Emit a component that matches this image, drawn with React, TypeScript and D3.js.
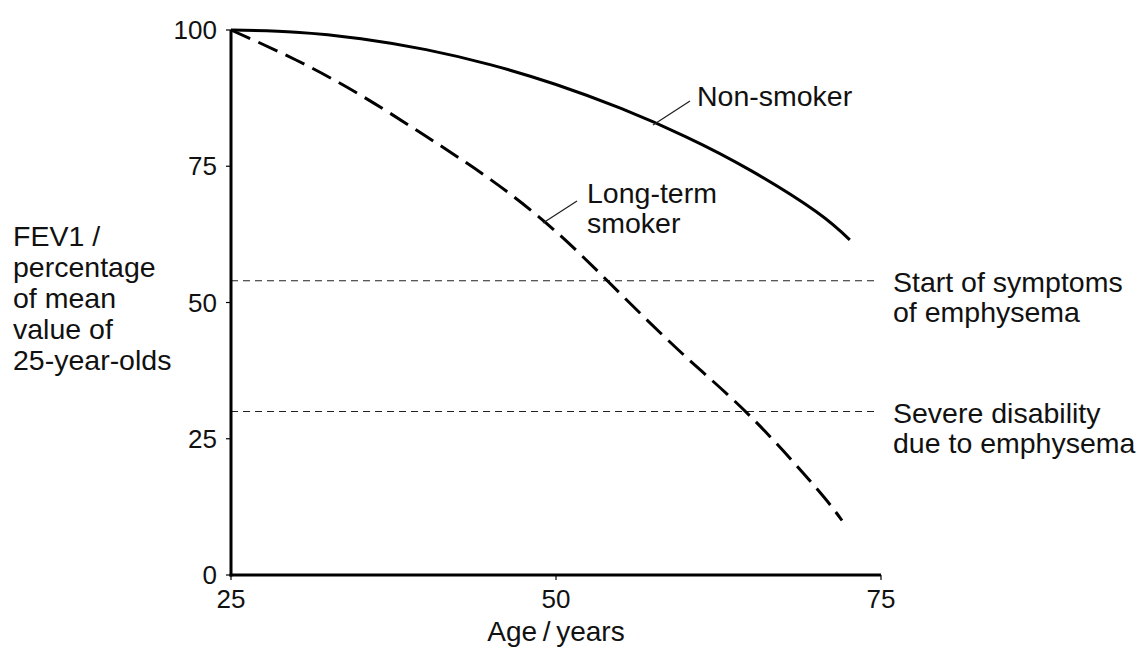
import React from "react";
import * as d3 from "d3";

const ages = [25, 30, 35, 40, 45, 50, 55, 60, 65, 70, 72.6];
const nonSmoker = [100, 99.6, 98.4, 96.4, 93.6, 90, 85.6, 80.4, 74.2, 66.7, 61.5];
const smokerAges = [25, 30, 35, 40, 45, 50, 55, 60, 65, 70, 72];
const smoker = [100, 94.5, 88, 80.5, 72.5, 63, 51.5, 40, 29, 16, 10];
const xTicks = [25, 50, 75];
const yTicks = [0, 25, 50, 75, 100];
const thresholds = [
  { value: 54, label: ["Start of symptoms", "of emphysema"] },
  { value: 30, label: ["Severe disability", "due to emphysema"] },
];
const yLabel = ["FEV1 /", "percentage", "of mean", "value of", "25-year-olds"];

export default function App() {
  const W = 1145, H = 648;
  const x = d3.scaleLinear().domain([25, 75]).range([231, 881]);
  const y = d3.scaleLinear().domain([0, 100]).range([575, 30]);
  const font = "'Liberation Sans', Arial, sans-serif";
  const line = d3
    .line<[number, number]>()
    .x((d) => x(d[0]))
    .y((d) => y(d[1]))
    .curve(d3.curveNatural);
  const nsData = ages.map((a, i) => [a, nonSmoker[i]] as [number, number]);
  const smData = smokerAges.map((a, i) => [a, smoker[i]] as [number, number]);
  const fs = 28.5;
  const tfs = 26;
  return (
    <svg
      width={W}
      height={H}
      style={{ position: "absolute", left: 0, top: 0, background: "#fff" }}
      fontFamily={font}
    >
      {thresholds.map((t, i) => (
        <g key={i}>
          <line
            x1={x(25)}
            x2={x(75) - 2}
            y1={y(t.value)}
            y2={y(t.value)}
            stroke="#222"
            strokeWidth={1.1}
            strokeDasharray="7,5"
          />
          {t.label.map((s, j) => (
            <text
              key={j}
              x={893}
              y={y(t.value) + 11 + j * 30}
              fontSize={fs}
              fill="#111"
            >
              {s}
            </text>
          ))}
        </g>
      ))}
      <path d={line(nsData) || ""} fill="none" stroke="#000" strokeWidth={3} />
      <path
        d={line(smData) || ""}
        fill="none"
        stroke="#000"
        strokeWidth={3}
        strokeDasharray="21,9"
      />
      <line x1={653} y1={125} x2={690} y2={101} stroke="#222" strokeWidth={1.3} />
      <line x1={543} y1={223} x2={577} y2={201} stroke="#222" strokeWidth={1.3} />
      <text x={697} y={106} fontSize={fs} fill="#111">Non-smoker</text>
      <text x={587} y={203} fontSize={fs} fill="#111">Long-term</text>
      <text x={587} y={233} fontSize={fs} fill="#111">smoker</text>
      <line x1={x(25)} x2={x(25)} y1={y(0) + 1.5} y2={y(100)} stroke="#000" strokeWidth={3} />
      <line x1={x(25) - 1.5} x2={x(75)} y1={y(0)} y2={y(0)} stroke="#000" strokeWidth={3} />
      {yTicks.map((t) => (
        <g key={"y" + t}>
          <line x1={x(25) - 5} x2={x(25)} y1={y(t)} y2={y(t)} stroke="#000" strokeWidth={1.2} />
          <text x={217} y={y(t)} dy="0.35em" textAnchor="end" fontSize={tfs} fill="#111">
            {t}
          </text>
        </g>
      ))}
      {xTicks.map((t) => (
        <g key={"x" + t}>
          <line x1={x(t)} x2={x(t)} y1={y(0)} y2={y(0) + 5} stroke="#000" strokeWidth={1.2} />
          <text x={x(t)} y={608} textAnchor="middle" fontSize={tfs} fill="#111">
            {t}
          </text>
        </g>
      ))}
      <text x={x(50)} y={641} textAnchor="middle" fontSize={28} fill="#111">
        Age{"\u2009"}/{"\u2009"}years
      </text>
      {yLabel.map((s, i) => (
        <text key={i} x={13} y={246 + i * 31} fontSize={fs} fill="#111">
          {s}
        </text>
      ))}
    </svg>
  );
}
